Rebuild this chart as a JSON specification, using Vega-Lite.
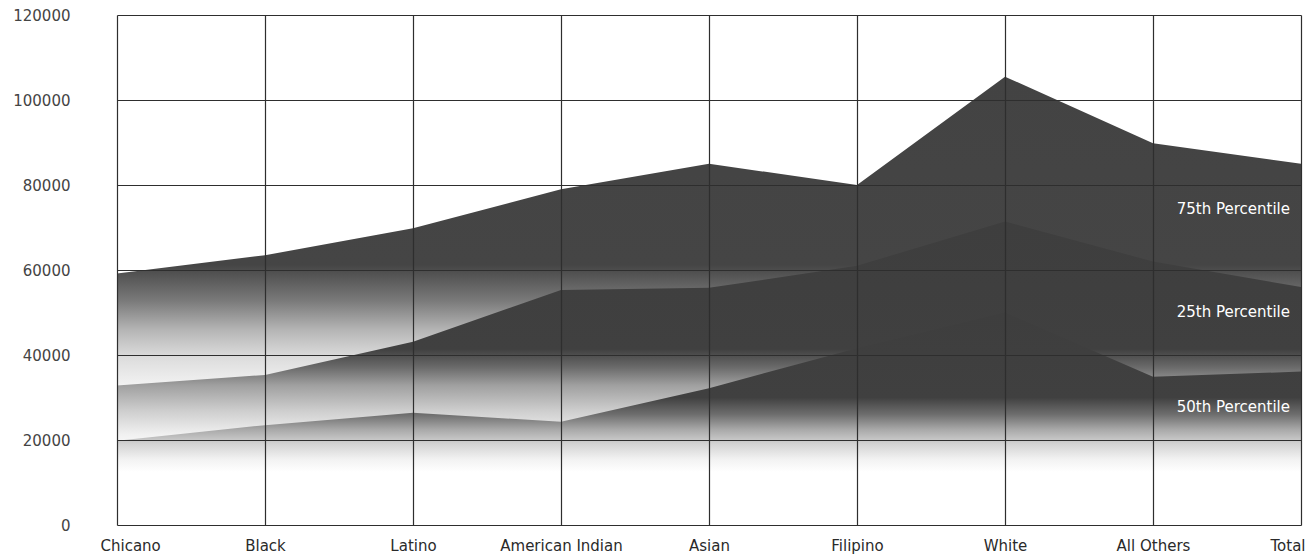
{
  "$schema": "https://vega.github.io/schema/vega-lite/v6.json",
  "width": 1217,
  "height": 510,
  "autosize": "none",
  "padding": {"left": 85, "top": 15, "right": 7, "bottom": 29},
  "background": "#ffffff",
  "config": {
    "view": {"stroke": null},
    "font": "DejaVu Sans"
  },
  "datasets": {
    "income": [
      {"group": "Chicano", "series": "75th Percentile", "value": 59200},
      {"group": "Black", "series": "75th Percentile", "value": 63500},
      {"group": "Latino", "series": "75th Percentile", "value": 69800},
      {"group": "American Indian", "series": "75th Percentile", "value": 79000},
      {"group": "Asian", "series": "75th Percentile", "value": 85000},
      {"group": "Filipino", "series": "75th Percentile", "value": 80000},
      {"group": "White", "series": "75th Percentile", "value": 105500},
      {"group": "All Others", "series": "75th Percentile", "value": 89800},
      {"group": "Total", "series": "75th Percentile", "value": 85000},
      {"group": "Chicano", "series": "25th Percentile", "value": 32800},
      {"group": "Black", "series": "25th Percentile", "value": 35300},
      {"group": "Latino", "series": "25th Percentile", "value": 43100},
      {"group": "American Indian", "series": "25th Percentile", "value": 55300},
      {"group": "Asian", "series": "25th Percentile", "value": 55800},
      {"group": "Filipino", "series": "25th Percentile", "value": 61000},
      {"group": "White", "series": "25th Percentile", "value": 71400},
      {"group": "All Others", "series": "25th Percentile", "value": 62000},
      {"group": "Total", "series": "25th Percentile", "value": 56000},
      {"group": "Chicano", "series": "50th Percentile", "value": 19800},
      {"group": "Black", "series": "50th Percentile", "value": 23500},
      {"group": "Latino", "series": "50th Percentile", "value": 26400},
      {"group": "American Indian", "series": "50th Percentile", "value": 24300},
      {"group": "Asian", "series": "50th Percentile", "value": 32200},
      {"group": "Filipino", "series": "50th Percentile", "value": 41600},
      {"group": "White", "series": "50th Percentile", "value": 50000},
      {"group": "All Others", "series": "50th Percentile", "value": 34900},
      {"group": "Total", "series": "50th Percentile", "value": 36100}
    ],
    "labels": [
      {"group": "Total", "series": "75th Percentile", "value": 74400},
      {"group": "Total", "series": "25th Percentile", "value": 50100},
      {"group": "Total", "series": "50th Percentile", "value": 27800}
    ]
  },
  "encoding": {
    "x": {
      "field": "group",
      "type": "nominal",
      "sort": ["Chicano", "Black", "Latino", "American Indian", "Asian", "Filipino", "White", "All Others", "Total"],
      "scale": {"type": "point", "range": [32, 1216], "padding": 0},
      "axis": {
        "title": null,
        "domain": false,
        "ticks": false,
        "grid": true,
        "gridColor": "#2e2e2e",
        "gridWidth": 1.2,
        "gridOpacity": 1,
        "zindex": 1,
        "labelAngle": 0,
        "labelFontSize": 15,
        "labelColor": "#2a2a2a",
        "labelPadding": 13,
        "labelAlign": {
          "condition": [
            {"test": "datum.value === 'Chicano'", "value": "left"},
            {"test": "datum.value === 'Total'", "value": "right"}
          ],
          "value": "center"
        },
        "labelOffset": {
          "condition": [
            {"test": "datum.value === 'Chicano'", "value": -17},
            {"test": "datum.value === 'Total'", "value": 4}
          ],
          "value": 0
        }
      }
    },
    "y": {
      "field": "value",
      "type": "quantitative",
      "scale": {"domain": [0, 120000], "nice": false},
      "axis": {
        "title": null,
        "values": [0, 20000, 40000, 60000, 80000, 100000, 120000],
        "format": "d",
        "domain": false,
        "ticks": false,
        "grid": true,
        "gridColor": "#2e2e2e",
        "gridWidth": 1.2,
        "gridOpacity": 1,
        "zindex": 1,
        "labelFontSize": 15,
        "labelColor": "#444444",
        "labelPadding": 15
      }
    }
  },
  "layer": [
    {
      "data": {"name": "income"},
      "transform": [{"filter": "datum.series === '75th Percentile'"}],
      "mark": {
        "type": "area",
        "interpolate": "linear",
        "fill": {
          "gradient": "linear",
          "x1": 0, "y1": 0, "x2": 0, "y2": 1,
          "stops": [
            {"offset": 0, "color": "#434343"},
            {"offset": 0.42, "color": "#454545"},
            {"offset": 0.5, "color": "#7a7a7a"},
            {"offset": 0.565, "color": "#b5b5b5"},
            {"offset": 0.625, "color": "#dcdcdc"},
            {"offset": 0.7, "color": "#f6f6f6"},
            {"offset": 0.78, "color": "#ffffff"},
            {"offset": 1, "color": "#ffffff"}
          ]
        }
      }
    },
    {
      "data": {"name": "income"},
      "transform": [{"filter": "datum.series === '25th Percentile'"}],
      "mark": {
        "type": "area",
        "interpolate": "linear",
        "fill": {
          "gradient": "linear",
          "x1": 0, "y1": 0, "x2": 0, "y2": 1,
          "stops": [
            {"offset": 0, "color": "#3e3e3e"},
            {"offset": 0.42, "color": "#404040"},
            {"offset": 0.48, "color": "#6a6a6a"},
            {"offset": 0.54, "color": "#a0a0a0"},
            {"offset": 0.62, "color": "#cccccc"},
            {"offset": 0.7, "color": "#f0f0f0"},
            {"offset": 0.76, "color": "#ffffff"},
            {"offset": 1, "color": "#ffffff"}
          ]
        }
      }
    },
    {
      "data": {"name": "income"},
      "transform": [{"filter": "datum.series === '50th Percentile'"}],
      "mark": {
        "type": "area",
        "interpolate": "linear",
        "fill": {
          "gradient": "linear",
          "x1": 0, "y1": 0, "x2": 0, "y2": 1,
          "stops": [
            {"offset": 0, "color": "#3e3e3e"},
            {"offset": 0.4, "color": "#404040"},
            {"offset": 0.48, "color": "#6e6e6e"},
            {"offset": 0.55, "color": "#a8a8a8"},
            {"offset": 0.62, "color": "#d4d4d4"},
            {"offset": 0.69, "color": "#f2f2f2"},
            {"offset": 0.75, "color": "#ffffff"},
            {"offset": 1, "color": "#ffffff"}
          ]
        }
      }
    },
    {
      "data": {"name": "labels"},
      "mark": {
        "type": "text",
        "align": "right",
        "baseline": "middle",
        "dx": -11,
        "fontSize": 15,
        "color": "#ffffff"
      },
      "encoding": {
        "text": {"field": "series"}
      }
    }
  ]
}
